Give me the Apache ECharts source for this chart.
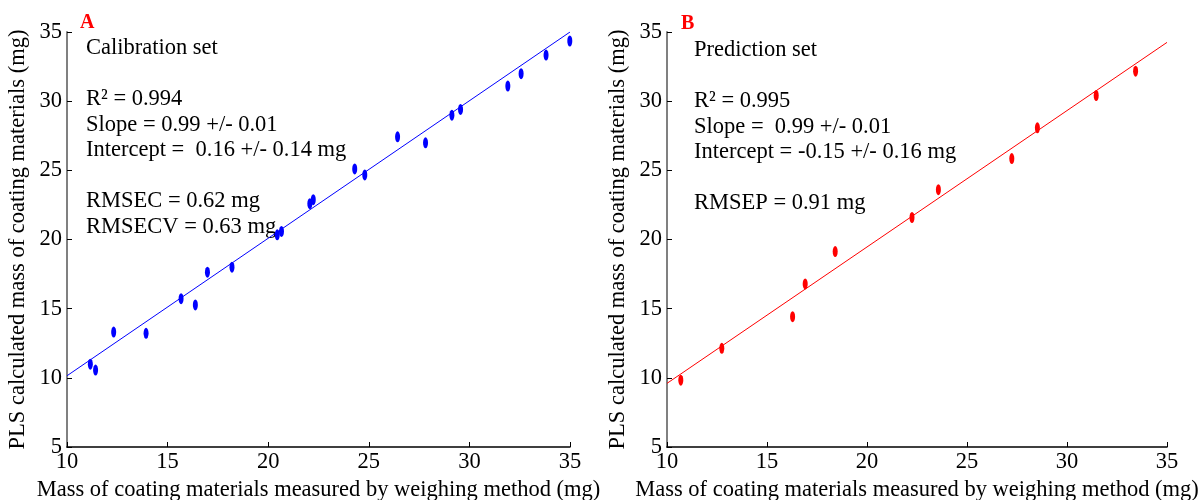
<!DOCTYPE html>
<html>
<head>
<meta charset="utf-8">
<script src="https://cdn.jsdelivr.net/npm/echarts@6/dist/echarts.min.js"></script>
<style>
html,body{margin:0;padding:0;background:#fff;}
#chart{width:1201px;height:500px;}
</style>
</head>
<body>
<div id="chart"></div>
<script>
// Calibration set (A): [measured, PLS calculated]
const calMeasured = [11.16, 11.42, 12.32, 13.93, 15.67, 16.38, 16.98, 18.20, 20.45, 20.66, 22.07, 22.24, 24.30, 24.80, 26.43, 27.82, 29.13, 29.56, 31.91, 32.57, 33.81, 34.99];
const calPredicted = [10.99, 10.56, 13.31, 13.22, 15.72, 15.27, 17.64, 18.00, 20.34, 20.58, 22.59, 22.88, 25.10, 24.67, 27.42, 26.99, 28.99, 29.40, 31.09, 31.99, 33.33, 34.35];
const calFitX = [10, 35];
const calFitY = [10.15, 35.0];

// Prediction set (B)
const predMeasured = [10.69, 12.74, 16.28, 16.91, 18.41, 22.25, 23.57, 27.24, 28.52, 31.46, 33.43];
const predPredicted = [9.83, 12.13, 14.42, 16.79, 19.13, 21.59, 23.60, 25.85, 28.07, 30.41, 32.17];
const predFitX = [10, 35];
const predFitY = [9.6, 34.25];

const axisTicks = {min: 5, max: 35, interval: 5};
const xTicks = {min: 10, max: 35, interval: 5};

const panelLetters = ['A', 'B'];
const calText = ['Calibration set', '', 'R² = 0.994', 'Slope = 0.99 +/- 0.01', 'Intercept =  0.16 +/- 0.14 mg', '', 'RMSEC = 0.62 mg', 'RMSECV = 0.63 mg'];
const predText = ['Prediction set', '', 'R² = 0.995', 'Slope =  0.99 +/- 0.01', 'Intercept = -0.15 +/- 0.16 mg', '', 'RMSEP = 0.91 mg'];

const xName = 'Mass of coating materials measured by weighing method (mg)';
const yName = 'PLS calculated mass of coating materials (mg)';

const FONT = '"Liberation Serif", "Times New Roman", serif';
const FS = 22.5;
const zip = (a, b) => a.map((v, i) => [v, b[i]]);

function xAxisDef(idx) {
  return {
    gridIndex: idx, type: 'value', min: xTicks.min, max: xTicks.max, interval: xTicks.interval,
    name: xName, nameLocation: 'middle', nameGap: 29,
    nameTextStyle: {fontFamily: FONT, fontSize: FS, color: '#000'},
    axisLine: {show: true, onZero: false, lineStyle: {color: '#000', width: 1.5}},
    axisTick: {show: true, inside: true, length: 5, lineStyle: {color: '#000', width: 1}},
    axisLabel: {fontFamily: FONT, fontSize: FS, color: '#000', margin: 4},
    splitLine: {show: false}
  };
}
function yAxisDef(idx) {
  return {
    gridIndex: idx, type: 'value', min: axisTicks.min, max: axisTicks.max, interval: axisTicks.interval,
    name: yName, nameLocation: 'middle', nameGap: 37,
    nameTextStyle: {fontFamily: FONT, fontSize: FS, color: '#000'},
    axisLine: {show: true, onZero: false, lineStyle: {color: '#808080', width: 2}},
    axisTick: {show: true, inside: true, length: 5, lineStyle: {color: '#000', width: 1}},
    axisLabel: {fontFamily: FONT, fontSize: FS, color: '#000', margin: 5},
    splitLine: {show: false}
  };
}

function textBlock(lines, left, top) {
  const els = [];
  lines.forEach((t, i) => {
    if (!t) return;
    els.push({type: 'text', left: left, top: top + i * 25.5,
      style: {text: t, fontFamily: FONT, fontSize: FS, fill: '#000'}});
  });
  return els;
}

const chart = echarts.init(document.getElementById('chart'), null, {renderer: 'canvas'});
chart.setOption({
  backgroundColor: '#fff',
  animation: false,
  grid: [
    {left: 67, top: 32, width: 503, height: 415, containLabel: false, outerBoundsMode: 'none'},
    {left: 667, top: 32, width: 500, height: 415, containLabel: false, outerBoundsMode: 'none'}
  ],
  xAxis: [xAxisDef(0), xAxisDef(1)],
  yAxis: [yAxisDef(0), yAxisDef(1)],
  series: [
    {type: 'line', xAxisIndex: 0, yAxisIndex: 0, data: zip(calFitX, calFitY), symbol: 'none',
      lineStyle: {color: '#0000ff', width: 1}, z: 2},
    {type: 'scatter', xAxisIndex: 0, yAxisIndex: 0, data: zip(calMeasured, calPredicted), clip: false,
      symbol: 'circle', symbolSize: [5, 11], itemStyle: {color: '#0000ff', opacity: 1}, z: 3},
    {type: 'line', xAxisIndex: 1, yAxisIndex: 1, data: zip(predFitX, predFitY), symbol: 'none',
      lineStyle: {color: '#ff0000', width: 1}, z: 2},
    {type: 'scatter', xAxisIndex: 1, yAxisIndex: 1, data: zip(predMeasured, predPredicted), clip: false,
      symbol: 'circle', symbolSize: [5, 11], itemStyle: {color: '#ff0000', opacity: 1}, z: 3}
  ],
  graphic: [
    {type: 'text', left: 80, top: 13, style: {text: panelLetters[0], fontFamily: FONT, fontSize: 20, fontWeight: 'bold', fill: '#ff0000'}},
    {type: 'text', left: 681, top: 14, style: {text: panelLetters[1], fontFamily: FONT, fontSize: 20, fontWeight: 'bold', fill: '#ff0000'}}
  ].concat(textBlock(calText, 86, 37)).concat(textBlock(predText, 694, 39))
});
</script>
</body>
</html>
